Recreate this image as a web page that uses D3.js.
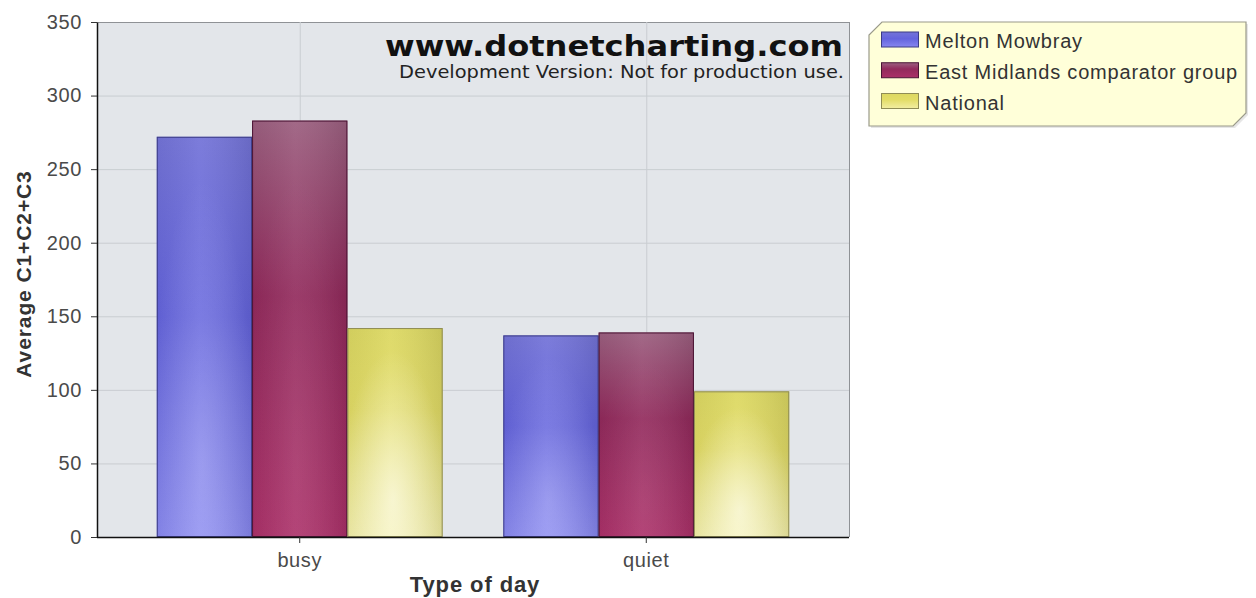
<!DOCTYPE html>
<html>
<head>
<meta charset="utf-8">
<script src="https://cdn.jsdelivr.net/npm/d3@7"></script>
<style>
  html, body { margin: 0; padding: 0; background: #ffffff; }
  svg { display: block; }
</style>
</head>
<body>
<svg id="chart" width="1256" height="598"></svg>
<script>
// Average C1+C2+C3 by type of day
const categories = ["busy", "quiet"];
const seriesNames = ["Melton Mowbray", "East Midlands comparator group", "National"];
const meltonMowbray = [272, 137];
const eastMidlands = [283, 139];
const national = [142, 99];
const yTicks = [0, 50, 100, 150, 200, 250, 300, 350];

const seriesValues = [meltonMowbray, eastMidlands, national];

// Shading per series: vertical gradient stops + highlight strength
const seriesStyle = [
  { stops: [["0%", "#7474d8"], ["45%", "#6464dd"], ["100%", "#8686f0"]], glow: 0.2, stroke: "#3c3c86" },
  { stops: [["0%", "#9c6080"], ["42%", "#922a5c"], ["100%", "#ab2f68"]], glow: 0.06, stroke: "#4a1434" },
  { stops: [["0%", "#dcd862"], ["40%", "#e2dc66"], ["100%", "#f2eea2"]], glow: 0.55, stroke: "#8f8c55" }
];

const svg = d3.select("#chart");
const plot = { left: 97, right: 849, top: 22, bottom: 537 };
const labelFont = "'Liberation Sans', Arial, sans-serif";

const defs = svg.append("defs");
seriesStyle.forEach((s, i) => {
  const g = defs.append("linearGradient").attr("id", "fill" + i)
    .attr("x1", 0).attr("y1", 0).attr("x2", 0).attr("y2", 1);
  s.stops.forEach(([o, c]) => g.append("stop").attr("offset", o).attr("stop-color", c));
  const r = defs.append("radialGradient").attr("id", "glow" + i)
    .attr("cx", 0.48).attr("cy", 0.82).attr("r", 0.55)
    .attr("gradientTransform", "translate(0.48,0.82) scale(1,1.3) translate(-0.48,-0.82)");
  r.append("stop").attr("offset", "0%").attr("stop-color", "#ffffff").attr("stop-opacity", s.glow);
  r.append("stop").attr("offset", "100%").attr("stop-color", "#ffffff").attr("stop-opacity", 0);
  const e = defs.append("linearGradient").attr("id", "edge" + i)
    .attr("x1", 0).attr("y1", 0).attr("x2", 1).attr("y2", 0);
  e.append("stop").attr("offset", "0%").attr("stop-color", "#000000").attr("stop-opacity", 0.05);
  e.append("stop").attr("offset", "45%").attr("stop-color", "#ffffff").attr("stop-opacity", 0.06);
  e.append("stop").attr("offset", "100%").attr("stop-color", "#000000").attr("stop-opacity", 0.1);
});

// Scales
const y = d3.scaleLinear().domain([0, 350]).range([plot.bottom, plot.top]);
const x0 = d3.scaleBand().domain(categories).range([plot.left, plot.right])
  .paddingInner(0).paddingOuter(0.085);
const groupWidth = x0.bandwidth() * 0.825;
const x1 = d3.scaleBand().domain(d3.range(seriesNames.length)).range([0, groupWidth]).padding(0);
const groupOffset = (x0.bandwidth() - groupWidth) / 2;

// Plot background
svg.append("rect")
  .attr("x", plot.left).attr("y", plot.top)
  .attr("width", plot.right - plot.left).attr("height", plot.bottom - plot.top)
  .attr("fill", "#e3e6ea");

// Grid lines
svg.append("g").selectAll("line").data(yTicks.slice(1)).join("line")
  .attr("x1", plot.left).attr("x2", plot.right)
  .attr("y1", d => y(d) + 0.5).attr("y2", d => y(d) + 0.5)
  .attr("stroke", d => d === 350 ? "#8f9296" : "#c9cdd1").attr("stroke-width", 1);
svg.append("g").selectAll("line").data(categories).join("line")
  .attr("x1", d => x0(d) + x0.bandwidth() / 2 + 0.5).attr("x2", d => x0(d) + x0.bandwidth() / 2 + 0.5)
  .attr("y1", plot.top).attr("y2", plot.bottom)
  .attr("stroke", "#c9cdd1").attr("stroke-width", 1);
// Right border
svg.append("line")
  .attr("x1", plot.right + 0.5).attr("x2", plot.right + 0.5)
  .attr("y1", plot.top).attr("y2", plot.bottom)
  .attr("stroke", "#8f9296");

// Watermark
svg.append("text")
  .attr("x", 843).attr("y", 56).attr("text-anchor", "end")
  .attr("font-family", "'DejaVu Sans', Verdana, sans-serif").attr("font-weight", "bold")
  .attr("font-size", 29).attr("fill", "#111111")
  .attr("textLength", 458).attr("lengthAdjust", "spacingAndGlyphs")
  .text("www.dotnetcharting.com");
svg.append("text")
  .attr("x", 844).attr("y", 78).attr("text-anchor", "end")
  .attr("font-family", "'DejaVu Sans', Verdana, sans-serif")
  .attr("font-size", 17).attr("fill", "#222222")
  .attr("textLength", 445).attr("lengthAdjust", "spacingAndGlyphs")
  .text("Development Version: Not for production use.");

// Bars
const barData = [];
categories.forEach((c, ci) => {
  seriesValues.forEach((vals, si) => barData.push({ c, si, v: vals[ci] }));
});
const bars = svg.append("g");
const bx = d => x0(d.c) + groupOffset + x1(d.si);
["fill", "edge", "glow"].forEach(layer => {
  bars.append("g").selectAll("rect").data(barData).join("rect")
    .attr("x", bx).attr("y", d => y(d.v))
    .attr("width", x1.bandwidth()).attr("height", d => y(0) - y(d.v))
    .attr("fill", d => `url(#${layer}${d.si})`);
});
bars.append("g").selectAll("rect").data(barData).join("rect")
  .attr("x", d => bx(d) + 0.5).attr("y", d => y(d.v) + 0.5)
  .attr("width", x1.bandwidth() - 1).attr("height", d => y(0) - y(d.v) - 1)
  .attr("fill", "none").attr("stroke", d => seriesStyle[d.si].stroke).attr("stroke-width", 1);

// Y axis
const yAxis = svg.append("g").attr("transform", `translate(${plot.left},0)`)
  .call(d3.axisLeft(y).tickValues(yTicks).tickSize(6).tickPadding(9).tickSizeOuter(0));
yAxis.select(".domain").attr("stroke", "#111111").attr("stroke-width", 1.5);
yAxis.selectAll(".tick line").attr("stroke", "#333333");
yAxis.selectAll(".tick text")
  .attr("font-family", labelFont).attr("font-size", 20).attr("letter-spacing", 0.6)
  .attr("fill", "#4a4a4a");

// X axis
const xAxis = svg.append("g").attr("transform", `translate(0,${plot.bottom})`)
  .call(d3.axisBottom(x0).tickSize(6).tickPadding(10).tickSizeOuter(0));
xAxis.select(".domain").attr("stroke", "#111111").attr("stroke-width", 1.5)
  .attr("d", `M${plot.left},0.5H${plot.right}`);
xAxis.selectAll(".tick line").attr("stroke", "#333333");
xAxis.selectAll(".tick text")
  .attr("font-family", labelFont).attr("font-size", 20).attr("letter-spacing", 0.6)
  .attr("fill", "#4a4a4a");

// Axis titles
svg.append("text")
  .attr("transform", "translate(31,274) rotate(-90)")
  .attr("text-anchor", "middle")
  .attr("font-family", labelFont).attr("font-weight", "bold")
  .attr("font-size", 21).attr("letter-spacing", 0.9).attr("fill", "#333333")
  .text("Average C1+C2+C3");
svg.append("text")
  .attr("x", 475).attr("y", 592)
  .attr("text-anchor", "middle")
  .attr("font-family", labelFont).attr("font-weight", "bold")
  .attr("font-size", 22).attr("letter-spacing", 0.9).attr("fill", "#333333")
  .text("Type of day");

// Legend
const lg = { x: 869, y: 22, w: 377, h: 104, cut: 13 };
const legendPath = `M${lg.x + lg.cut},${lg.y}H${lg.x + lg.w}V${lg.y + lg.h - lg.cut}` +
  `L${lg.x + lg.w - lg.cut},${lg.y + lg.h}H${lg.x}V${lg.y + lg.cut}Z`;
svg.append("path").attr("d", legendPath).attr("transform", "translate(2,2)")
  .attr("fill", "#e6e6e6");
svg.append("path").attr("d", legendPath)
  .attr("fill", "#ffffd9").attr("stroke", "#9a9a8a").attr("stroke-width", 1.2);
const legendY = d3.scalePoint().domain(seriesNames).range([39.5, 101]);
const items = svg.append("g").selectAll("g").data(seriesNames).join("g")
  .attr("transform", d => `translate(881,${legendY(d)})`);
items.append("rect")
  .attr("x", 0.5).attr("y", -7.5).attr("width", 37).attr("height", 15)
  .attr("fill", (d, i) => `url(#fill${i})`)
  .attr("stroke", (d, i) => seriesStyle[i].stroke).attr("stroke-width", 1);
items.append("text")
  .attr("x", 44).attr("y", 8.5)
  .attr("font-family", labelFont).attr("font-size", 20).attr("letter-spacing", 0.8)
  .attr("fill", "#333333")
  .text(d => d);
</script>
</body>
</html>
